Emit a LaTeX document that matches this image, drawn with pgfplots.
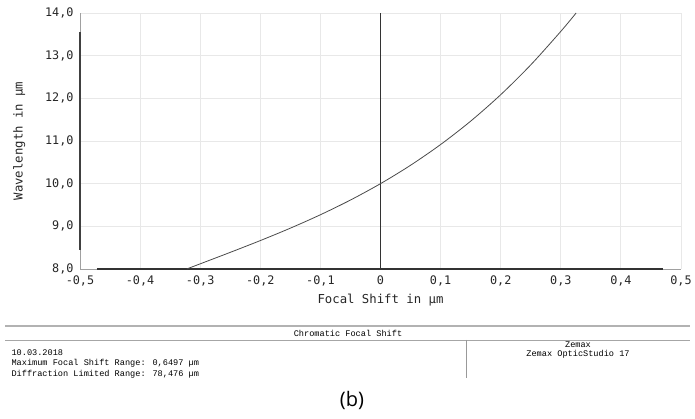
\documentclass[border=0pt]{standalone}
\usepackage{pgfplots}
\pgfplotsset{compat=1.18}
\usepackage{fontspec}
\setmainfont{DejaVu Sans Mono}
\newfontfamily\footfont{Liberation Mono}
\newfontfamily\capfont{Open Sans}
\definecolor{gridc}{HTML}{E8E8E8}
\definecolor{axc}{HTML}{A0A0A0}
\definecolor{curvec}{HTML}{4A4A4A}
\begin{document}
\begin{tikzpicture}[x=1pt,y=1pt]
\path (0,0) rectangle (695,419);
\begin{axis}[
  at={(80pt,150pt)}, anchor=south west,
  scale only axis, width=601pt, height=256pt,
  xmin=-0.5, xmax=0.5, ymin=8, ymax=14,
  axis x line*=bottom, axis y line*=left,
  axis line style={axc, line width=0.8pt},
  every outer x axis line/.append style={-}, every outer y axis line/.append style={-},
  xtick={-0.5,-0.4,-0.3,-0.2,-0.1,0,0.1,0.2,0.3,0.4,0.5},
  xticklabels={{-0,5},{-0,4},{-0,3},{-0,2},{-0,1},{0},{0,1},{0,2},{0,3},{0,4},{0,5}},
  ytick={8,9,10,11,12,13,14},
  yticklabels={{8,0},{9,0},{10,0},{11,0},{12,0},{13,0},{14,0}},
  tick style={draw=none},
  ticklabel style={font=\fontsize{11.8}{14}\selectfont, text=black!85},
  xticklabel style={yshift=-3pt},
  yticklabel style={xshift=-3pt},
  grid=major, major grid style={gridc, line width=0.9pt},
  xlabel={Focal Shift in µm}, ylabel={Wavelength in µm},
  label style={font=\fontsize{12.3}{14}\selectfont, text=black!85},
  xlabel style={yshift=-1pt},
  ylabel style={yshift=13pt},
  clip=false,
]
\addplot[black!80, line width=1.6pt] coordinates {(-0.472,8) (0.47,8)};
\addplot[black!75, line width=1.2pt] coordinates {(-0.5,8.45) (-0.5,13.56)};
\addplot[black!80, line width=0.9pt] coordinates {(0,8) (0,14)};
\addplot[curvec, line width=0.8pt, smooth] coordinates {
(-0.3225,8.000) (-0.30,8.121) (-0.25,8.390) (-0.20,8.666) (-0.15,8.957) (-0.10,9.271)
(-0.05,9.616) (0.00,10.000) (0.05,10.431) (0.10,10.917) (0.15,11.465) (0.20,12.085)
(0.25,12.784) (0.30,13.569) (0.3255,14.000)};
\end{axis}
% footer
\draw[black!30, line width=1.5pt] (5,93) -- (690,93);
\draw[black!35, line width=0.7pt] (5,79) -- (690,79);
\draw[black!40, line width=0.7pt] (466,79) -- (466,41);
\node[font=\footfont\fontsize{8.6}{10}\selectfont, anchor=center] at (348,86) {Chromatic Focal Shift};
\node[font=\footfont\fontsize{8.6}{10}\selectfont, anchor=west] at (8,66) {10.03.2018};
\node[font=\footfont\fontsize{8.6}{10}\selectfont, anchor=west] at (8,55.5) {Maximum Focal Shift Range: 0,6497 µm};
\node[font=\footfont\fontsize{8.6}{10}\selectfont, anchor=west] at (8,45) {Diffraction Limited Range: 78,476 µm};
\node[font=\footfont\fontsize{8.6}{10}\selectfont, anchor=center] at (578,74) {Zemax};
\node[font=\footfont\fontsize{8.6}{10}\selectfont, anchor=center] at (578,64.5) {Zemax OpticStudio 17};
\node[font=\capfont\fontsize{20}{22}\selectfont, anchor=center] at (352,19) {(b)};
\end{tikzpicture}
\end{document}
